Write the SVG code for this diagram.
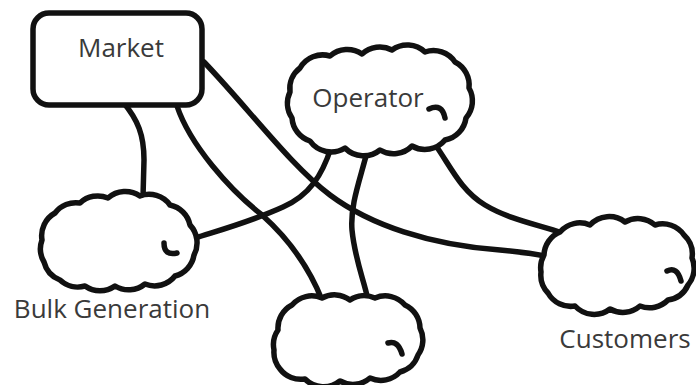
<svg xmlns="http://www.w3.org/2000/svg" width="696" height="385" viewBox="0 0 696 385">
  <style>
    .wire { fill: none; stroke: #111; stroke-width: 5.5; stroke-linecap: round; stroke-linejoin: round; }
    .shape { fill: #fff; stroke: #111; stroke-width: 5.5; stroke-linejoin: round; }
    .curl { fill: none; stroke: #111; stroke-width: 5.5; stroke-linecap: round; }
    .label { font-family: "Open Sans", "Liberation Sans", sans-serif; font-size: 26px; fill: #3a3a3a; text-anchor: middle; }
  </style>
  <rect width="696" height="385" fill="#fff"/>

  <g id="connectors">
    <!-- Market to Bulk Generation -->
    <path class="wire" d="M123,102 C138,120 144,135 144,160 L143,197"/>
    <!-- Market to unlabelled cloud -->
    <path class="wire" d="M177,106 C190,145 230,190 262,215 C290,240 310,270 322,300"/>
    <!-- Market to Customers -->
    <path class="wire" d="M204,62 C250,110 290,165 330,195 C370,225 430,245 500,250 C520,252 535,254 545,256"/>
    <!-- Operator to Bulk Generation -->
    <path class="wire" d="M331,148 C322,175 310,195 283,207 C250,222 220,230 195,238"/>
    <!-- Operator to unlabelled cloud -->
    <path class="wire" d="M367,152 C360,180 350,205 352,230 C355,260 364,280 368,300"/>
    <!-- Operator to Customers -->
    <path class="wire" d="M434,143 C450,165 460,190 485,205 C510,220 540,225 562,233"/>
  </g>

  <g id="market">
    <rect class="shape" x="33" y="13" width="169" height="92" rx="16"/>
    <text class="label" x="121" y="57">Market</text>
  </g>

  <g id="operator">
    <path class="shape" d="M290,92 A26,26 0 0 1 300,68 A26,26 0 0 1 330,56 A26,26 0 0 1 362,54 A26,26 0 0 1 392,50 A26,26 0 0 1 425,52 A26,26 0 0 1 455,62 A26,26 0 0 1 469,88 A26,26 0 0 1 466,118 A26,26 0 0 1 445,140 A26,26 0 0 1 412,146 A26,26 0 0 1 380,150 A26,26 0 0 1 345,148 A26,26 0 0 1 310,141 A26,26 0 0 1 292,118 A26,26 0 0 1 290,92 Z"/>
    <path class="curl" d="M429,109 Q442,103 445,118"/>
    <text class="label" x="368" y="107">Operator</text>
  </g>

  <g id="bulk-generation">
    <path class="shape" d="M42,240 A26,26 0 0 1 55,213 A26,26 0 0 1 80,203 A26,26 0 0 1 108,198 A26,26 0 0 1 140,196 A26,26 0 0 1 170,205 A26,26 0 0 1 190,225 A26,26 0 0 1 194,255 A26,26 0 0 1 175,276 A26,26 0 0 1 145,284 A26,26 0 0 1 115,286 A26,26 0 0 1 85,286 A26,26 0 0 1 60,280 A26,26 0 0 1 44,262 A26,26 0 0 1 42,240 Z"/>
    <path class="curl" d="M164,243 Q164,256 177,253"/>
    <text class="label" x="112" y="318">Bulk Generation</text>
  </g>

  <g id="unlabelled-cloud">
    <path class="shape" d="M278,330 A26,26 0 0 1 292,305 A26,26 0 0 1 322,298 A26,26 0 0 1 350,300 A26,26 0 0 1 375,298 A26,26 0 0 1 405,305 A26,26 0 0 1 420,328 A26,26 0 0 1 418,355 A26,26 0 0 1 400,372 A26,26 0 0 1 370,378 A26,26 0 0 1 340,381 A26,26 0 0 1 305,379 A26,26 0 0 1 280,369 A26,26 0 0 1 274,350 A26,26 0 0 1 278,330 Z"/>
    <path class="curl" d="M388,343 Q398,340 402,354"/>
  </g>

  <g id="customers">
    <path class="shape" d="M544,255 A26,26 0 0 1 560,232 A26,26 0 0 1 590,225 A26,26 0 0 1 625,222 A26,26 0 0 1 655,225 A26,26 0 0 1 684,235 A26,26 0 0 1 692,258 A26,26 0 0 1 688,285 A26,26 0 0 1 668,300 A26,26 0 0 1 640,306 A26,26 0 0 1 610,309 A26,26 0 0 1 575,306 A26,26 0 0 1 548,293 A26,26 0 0 1 541,272 A26,26 0 0 1 544,255 Z"/>
    <path class="curl" d="M667,271 Q677,266 681,281"/>
    <text class="label" x="625" y="348">Customers</text>
  </g>
</svg>
